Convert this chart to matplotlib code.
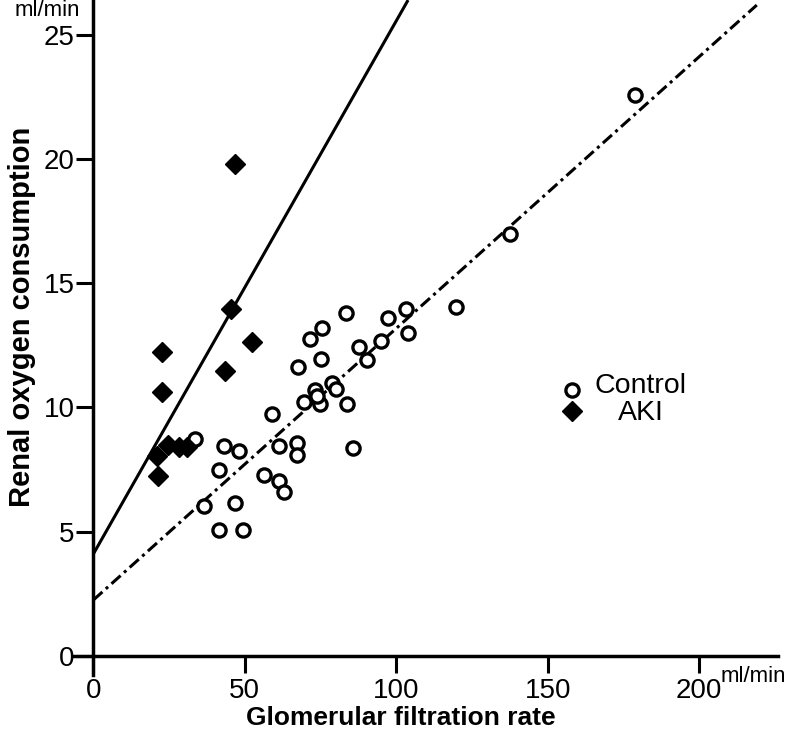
import numpy as np
import matplotlib.pyplot as plt
from matplotlib.lines import Line2D

plt.rcParams['font.family'] = ['Liberation Sans', 'DejaVu Sans']

# control group (ml/min)
control_gfr = [33.6, 43.2, 48.2, 41.6, 58.9, 61.4, 56.3, 61.3, 62.9, 36.6, 46.8, 41.6, 49.3,
               67.3, 67.1, 85.8, 83.3, 103.1, 97.3, 75.5, 71.5, 103.9, 94.9, 87.7, 90.2,
               75.0, 67.5, 78.7, 73.2, 80.1, 69.6, 74.8, 83.8, 119.7, 137.5, 178.8, 73.8]
control_vo2 = [8.72, 8.46, 8.25, 7.48, 9.72, 8.46, 7.28, 7.05, 6.58, 6.03, 6.14, 5.07, 5.07,
               8.56, 8.09, 8.35, 13.81, 13.96, 13.58, 13.18, 12.75, 13.0, 12.68, 12.44, 11.91,
               11.95, 11.61, 10.97, 10.70, 10.73, 10.23, 10.12, 10.12, 14.05, 16.98, 22.57, 10.46]

# AKI group
aki_gfr = [22.8, 22.6, 52.3, 43.5, 24.8, 28.3, 30.8, 20.9, 21.5, 46.8, 45.4]
aki_vo2 = [12.22, 10.61, 12.64, 11.46, 8.49, 8.40, 8.42, 8.05, 7.25, 19.79, 13.95]

# regression lines
aki_intercept, aki_slope, aki_xmax = 4.1, 0.2145, 103.9
ctrl_intercept, ctrl_slope, ctrl_xmax = 2.25, 0.1093, 219.0

xticks = [0, 50, 100, 150, 200]
yticks = [0, 5, 10, 15, 20, 25]

W, H = 800, 751
fig = plt.figure(figsize=(W / 100, H / 100), dpi=100)
left_px, right_px, bottom_px, top_px = 74.2, 778.0, 674.9, 0.0
ax = fig.add_axes([left_px / W, (H - bottom_px) / H, (right_px - left_px) / W, (bottom_px - top_px) / H])
ax.set_xlim(-6.3, 226.0)
ax.set_ylim(-0.76, 26.39)

for s in ['top', 'right']:
    ax.spines[s].set_visible(False)
for s in ['left', 'bottom']:
    ax.spines[s].set_position(('data', 0))
    ax.spines[s].set_linewidth(2.5)

ax.set_xticks(xticks)
ax.set_yticks(yticks)
ax.tick_params(axis='both', direction='out', length=12.5, width=2.2, labelsize=20)
ax.tick_params(axis='y', pad=1)
ax.tick_params(axis='x', pad=3)

xa = np.array([0, aki_xmax])
ax.plot(xa, aki_intercept + aki_slope * xa, color='black', lw=2.2, solid_capstyle='butt')
xc = np.array([0, ctrl_xmax])
ax.plot(xc, ctrl_intercept + ctrl_slope * xc, color='black', lw=2.2,
        linestyle=(0, (4, 1.5, 1, 1.5)))

circle_style = dict(marker='o', ms=9.5, mfc='white', mec='black', mew=2.4, linestyle='none')
diamond_style = dict(marker='D', ms=10.5, mfc='black', mec='black', mew=1, linestyle='none')

ax.plot(control_gfr, control_vo2, clip_on=False, **circle_style)
ax.plot(aki_gfr, aki_vo2, clip_on=False, **diamond_style)

# legend: markers left, labels centred
fig.add_artist(Line2D([572 / W], [(H - 390) / H], transform=fig.transFigure, **circle_style))
fig.add_artist(Line2D([572 / W], [(H - 411) / H], transform=fig.transFigure, **diamond_style))
fig.text(640 / W, (H - 386) / H, 'Control', fontsize=20.5, ha='center', va='center')
fig.text(641 / W, (H - 413) / H, 'AKI', fontsize=20.5, ha='center', va='center')

fig.text(22 / W, (H - 317) / H, 'Renal oxygen consumption', rotation=90, fontsize=21,
         fontweight='bold', ha='center', va='center')
fig.text(401 / W, (H - 718) / H, 'Glomerular filtration rate', fontsize=19,
         fontweight='bold', ha='center', va='center')
fig.text(47 / W, (H - 11) / H, 'ml/min', fontsize=16, ha='center', va='center')
fig.text(753 / W, (H - 676) / H, 'ml/min', fontsize=16, ha='center', va='center')

fig.savefig('out.png', dpi=100)
